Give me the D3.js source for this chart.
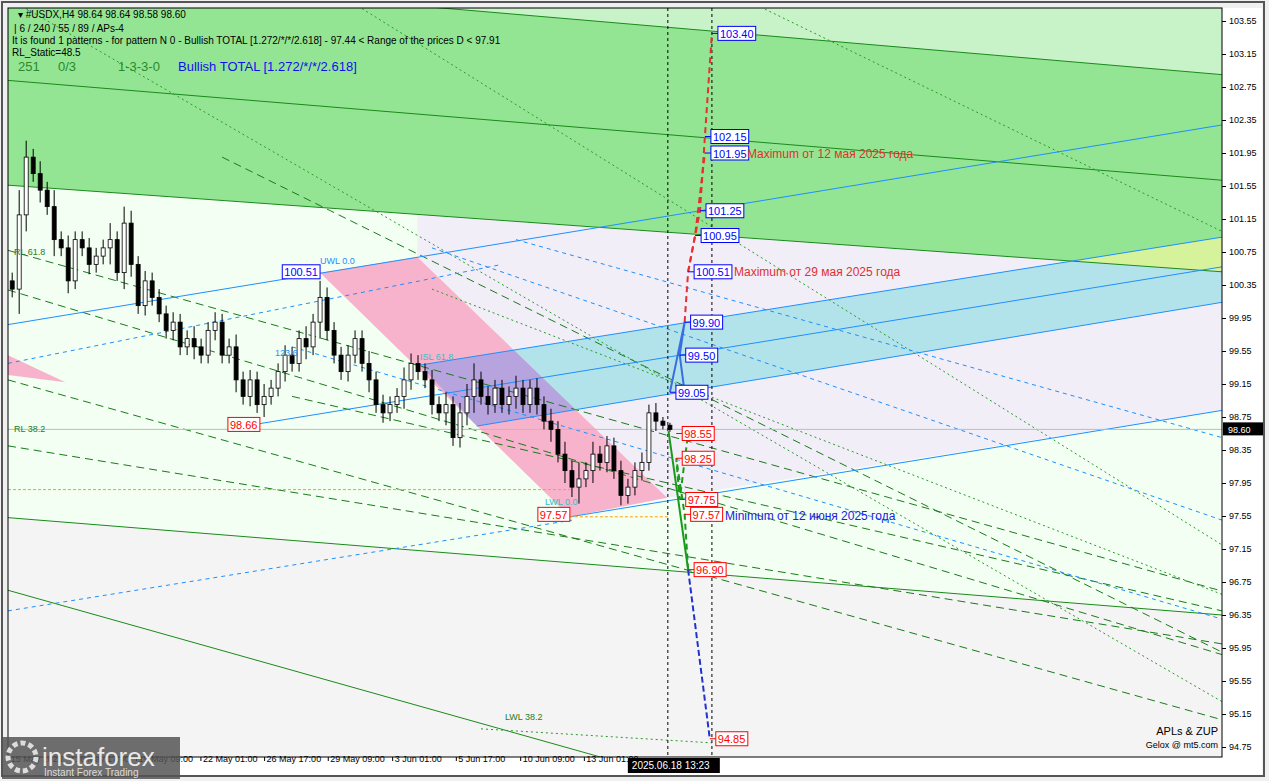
<!DOCTYPE html>
<html><head><meta charset="utf-8">
<script src="https://cdn.jsdelivr.net/npm/d3@7"></script>
<style>body{margin:0;background:#e8e8e8;overflow:hidden}text{font-family:"Liberation Sans",Arial,sans-serif}</style>
</head><body><svg id="c" width="1269" height="781"></svg>
<script>
// ---- data ----
const closes=[100.3,101.2,101.9,101.7,101.5,101.3,100.9,100.8,100.4,100.9,100.8,100.6,100.7,100.8,100.9,100.5,101.1,100.6,100.1,100.4,100.2,100.0,99.8,99.9,99.6,99.7,99.6,99.5,99.8,99.9,99.5,99.6,99.2,99.0,99.2,98.9,99.0,99.1,99.3,99.5,99.4,99.7,99.6,99.9,100.2,99.8,99.5,99.3,99.5,99.7,99.4,99.2,98.9,98.8,98.9,99.0,99.2,99.4,99.3,99.2,98.9,98.8,98.9,98.5,98.8,99.0,99.2,99.0,98.9,99.1,98.9,99.0,99.1,98.9,99.1,98.9,98.7,98.6,98.3,98.1,97.9,98.0,98.1,98.3,98.2,98.4,98.1,97.8,97.9,98.1,98.2,98.8,98.7,98.65,98.6];
const wicks=[0.1,0.3,0.2,0.1,0.15,0.1,0.2,0.1,0.15,0.1,0.1,0.12,0.1,0.1,0.2,0.1,0.2,0.15,0.1,0.12,0.1,0.1,0.1,0.12,0.1,0.1,0.15,0.1,0.1,0.12,0.1,0.1,0.15,0.1,0.12,0.1,0.15,0.1,0.1,0.12,0.1,0.1,0.15,0.1,0.2,0.12,0.1,0.1,0.12,0.1,0.1,0.15,0.1,0.12,0.1,0.1,0.15,0.12,0.1,0.1,0.12,0.1,0.15,0.1,0.12,0.15,0.2,0.1,0.12,0.1,0.1,0.12,0.15,0.1,0.1,0.12,0.1,0.15,0.1,0.15,0.12,0.2,0.1,0.15,0.1,0.12,0.1,0.12,0.1,0.1,0.12,0.1,0.12,0.05,0.03];
const priceTicks=[103.55,103.15,102.75,102.35,101.95,101.55,101.15,100.75,100.35,99.95,99.55,99.15,98.75,98.35,97.95,97.55,97.15,96.75,96.35,95.95,95.55,95.15,94.75];
const timeTicks=[[-0.57,"15 May 2025"],[8.6,"16 May 17:00"],[17.7,"19 May 09:00"],[26.9,"22 May 01:00"],[36,"26 May 17:00"],[45.1,"29 May 09:00"],[54.3,"3 Jun 01:00"],[63.4,"5 Jun 17:00"],[72.6,"10 Jun 09:00"],[81.7,"13 Jun 01:00"]];
const lastPrice=98.60;
const levels=[[100,103.40,"103.40","b"],[99,102.15,"102.15","b"],[99,101.95,"101.95","b"],[98.3,101.25,"101.25","b"],[97.6,100.95,"100.95","b"],[96.6,100.51,"100.51","b"],[96.1,99.90,"99.90","b"],[95.4,99.50,"99.50","b"],[94,99.05,"99.05","b"],[94.9,98.55,"98.55","r"],[94.9,98.25,"98.25","r"],[95.4,97.75,"97.75","r"],[96.1,97.57,"97.57","r"],[96.6,96.90,"96.90","r"],[99.7,94.85,"94.85","r"]];
const histLabels=[[44,100.51,"100.51","b"],[35.4,98.66,"98.66","r"],[79.7,97.57,"97.57","r"]];
const greenSolid=[[[-0.6,102.83],[172.9,101.62]],[[-0.6,101.56],[172.9,100.51]],[[-0.6,97.53],[172.9,96.35]],[[-0.6,96.65],[84,94.63]],[[56.9,103.74],[172.9,102.90]]];
const greenDashed=[[[-0.6,100.77],[172.9,96.64]],[[-0.6,100.29],[172.9,95.87]],[[-0.6,99.20],[172.9,95.08]],[[40,99.0],[172.9,96.4]],[[30,101.9],[172.9,95.9]],[[-0.6,98.4],[172.9,96.0]]];
const greenDotted=[[[2,103.7],[172.9,95.3]],[[50,103.7],[172.9,97.2]],[[60,100.3],[172.9,96.6]],[[67,94.97],[100,94.80]],[[105,103.8],[172.9,101.0]]];
const bandUpper=[[58.3,99.38],[172.9,100.93]];
const bandLower=[[66.4,98.64],[172.9,100.14]];
const blueLines=[[[-0.6,99.87],[172.9,102.29]],bandUpper,bandLower,[[35.4,98.67],[172.9,100.57]],[[79.7,97.54],[172.9,98.83]]];
const blueDashed=[[[40,99.6],[172.9,96.3]],[[60,100.8],[172.9,97.5]],[[72,100.9],[172.9,98.5]],[[-0.6,96.4],[80,97.5]],[[-0.6,99.4],[70,100.6]]];
const pink=[[44,100.50],[57.9,100.69],[93.6,97.77],[79.7,97.54]];
const redPath=[[96.6,100.51],[98.3,101.25],[99,102.15],[100,103.40]];
const redPath2=[[96.1,99.90],[96.6,100.51],[97.6,100.95],[99,101.95]];
const blueSolid=[[94,99.05],[96.1,99.90],[95.4,99.50],[96.1,99.05]];
const greenPathSolid=[[93.8,98.58],[96.6,96.90]];
const greenPathDash=[[96.6,96.90],[96.1,97.57],[94.9,98.25],[95.4,97.75],[96.6,98.55]];
const bluePathDash=[[96.6,96.90],[99.7,94.85]];

// ---- scales ----
const L=8,R=1222,T=8,B=757;
const x=d3.scaleLinear().domain([-0.6,172.9]).range([L,R]);
const y=d3.scaleLinear().domain([94.75,103.55]).range([747,21]);
const svg=d3.select("#c");
svg.append("rect").attr("width",1269).attr("height",781).attr("fill","#f0f0f0");
svg.append("rect").attr("x",2).attr("y",2).attr("width",1262).attr("height",774).attr("fill","none").attr("stroke","#555").attr("stroke-width",2);
const defs=svg.append("defs");
defs.append("clipPath").attr("id","cl").append("rect").attr("x",L).attr("y",T).attr("width",R-L).attr("height",B-T);
const g=svg.append("g").attr("clip-path","url(#cl)");
g.append("rect").attr("x",L).attr("y",T).attr("width",R-L).attr("height",B-T).attr("fill","#f2fff2");
const P=(a)=>a.map(d=>[x(d[0]),y(d[1])].join(",")).join(" ");
const ext=(l,b)=>{const[a,c]=l;const s=(c[1]-a[1])/(c[0]-a[0]);return a[1]+s*(b-a[0]);};
const gLow=greenSolid[1];
g.append("polygon").attr("points",P([[-0.6,97.53],[172.9,96.35],[172.9,93],[-0.6,93]])).attr("fill","#f4f4f4");
g.append("polygon").attr("points",P([[57.9,ext(gLow,57.9)],[172.9,ext(gLow,172.9)],[172.9,98.83],[93.6,97.77],[57.9,100.69]])).attr("fill","#f1eef8");
g.append("polygon").attr("points",P([[-0.6,104],[56.9,104],[172.9,102.9],[172.9,ext(gLow,172.9)],[-0.6,ext(gLow,-0.6)]])).attr("fill","#93e593");
g.append("polygon").attr("points",P([[56.9,103.74],[172.9,102.9],[172.9,104],[56.9,104]])).attr("fill","#c8f3c8");
const bandPoly=[bandUpper[0],[172.9,ext(bandUpper,172.9)],[172.9,ext(bandLower,172.9)],bandLower[0]];
g.append("polygon").attr("points",P(bandPoly)).attr("fill","#b3e3ea");
const su=(bandUpper[1][1]-bandUpper[0][1])/(bandUpper[1][0]-bandUpper[0][0]),sg=(gLow[1][1]-gLow[0][1])/(gLow[1][0]-gLow[0][0]);
const bx=(gLow[0][1]-sg*gLow[0][0]-(bandUpper[0][1]-su*bandUpper[0][0]))/(su-sg);
g.append("polygon").attr("points",P([[bx,ext(gLow,bx)],[172.9,ext(bandUpper,172.9)],[172.9,ext(gLow,172.9)]])).attr("fill","#d6f29a");
g.append("polygon").attr("points",P(pink)).attr("fill","#f7b3cc");
defs.append("clipPath").attr("id","bandclip").append("polygon").attr("points",P(bandPoly));
g.append("polygon").attr("points",P(pink)).attr("fill","#b7a4de").attr("clip-path","url(#bandclip)");
g.append("polygon").attr("points",P([[-0.6,99.5],[7.6,99.17],[-0.6,99.26]])).attr("fill","#f7b3cc");
const ln=(arr,col,dash,w)=>arr.forEach(l=>g.append("line").attr("x1",x(l[0][0])).attr("y1",y(l[0][1])).attr("x2",x(l[1][0])).attr("y2",y(l[1][1])).attr("stroke",col).attr("stroke-width",w||1).attr("stroke-dasharray",dash||null));
ln(greenSolid,"#1a8a1a");
ln(greenDashed,"#1a7a1a","8,5");
ln(greenDotted,"#2a9a2a","2,3");
ln(blueLines,"#1e8fff");
ln(blueDashed,"#1e8fff","4,4");
g.append("line").attr("x1",L).attr("x2",R).attr("y1",y(lastPrice)).attr("y2",y(lastPrice)).attr("stroke","#bbb");
g.append("line").attr("x1",L).attr("x2",x(79.7)).attr("y1",y(97.87)).attr("y2",y(97.87)).attr("stroke","#ffa000").attr("stroke-dasharray","3,2");
g.append("line").attr("x1",x(79.7)).attr("x2",x(93.7)).attr("y1",y(97.54)).attr("y2",y(97.54)).attr("stroke","#ffa000").attr("stroke-dasharray","3,2");
[93.7,100].forEach(b=>g.append("line").attr("x1",x(b)).attr("x2",x(b)).attr("y1",T).attr("y2",B).attr("stroke","#000").attr("stroke-dasharray","3,3"));
const bw=4;
closes.forEach((c,i)=>{const o=i?closes[i-1]:c+0.1;const hi=Math.max(o,c)+wicks[i],lo=Math.min(o,c)-wicks[i];
 g.append("line").attr("x1",x(i)).attr("x2",x(i)).attr("y1",y(hi)).attr("y2",y(lo)).attr("stroke","#000");
 g.append("rect").attr("x",x(i)-bw/2).attr("width",bw).attr("y",y(Math.max(o,c))).attr("height",Math.max(1,Math.abs(y(o)-y(c)))).attr("fill",c>=o?"#fff":"#000").attr("stroke","#000").attr("stroke-width",0.8);});
const lg=d3.line().x(d=>x(d[0])).y(d=>y(d[1]));
g.append("path").attr("d",lg(redPath)).attr("fill","none").attr("stroke","#e53030").attr("stroke-width",2).attr("stroke-dasharray","6,4");
g.append("path").attr("d",lg(redPath2)).attr("fill","none").attr("stroke","#e53030").attr("stroke-width",2).attr("stroke-dasharray","6,4");
g.append("path").attr("d",lg(blueSolid)).attr("fill","none").attr("stroke","#3a6ee0").attr("stroke-width",2);
g.append("path").attr("d",lg(greenPathSolid)).attr("fill","none").attr("stroke","#1a9a1a").attr("stroke-width",2);
g.append("path").attr("d",lg(greenPathDash)).attr("fill","none").attr("stroke","#1a9a1a").attr("stroke-width",2).attr("stroke-dasharray","6,4");
g.append("path").attr("d",lg(bluePathDash)).attr("fill","none").attr("stroke","#2233cc").attr("stroke-width",2).attr("stroke-dasharray","6,3");
const box=(b,p,t,c)=>{const col=c=="b"?"#0000ff":"#ff0000";const X=x(b)+6,Y=y(p),w=t.length*5.8+3;
 g.append("line").attr("x1",x(b)).attr("x2",X).attr("y1",Y).attr("y2",Y).attr("stroke",col);
 g.append("rect").attr("x",X).attr("y",Y-7).attr("width",w).attr("height",14).attr("fill","#fff").attr("stroke",col);
 g.append("text").attr("x",X+2).attr("y",Y+4.5).attr("font-size",11).attr("fill",col).text(t);};
levels.forEach(d=>box(...d));
histLabels.forEach(([b,p,t,c])=>{const col=c=="b"?"#0000ff":"#ff0000",w=t.length*5.8+3;
 g.append("rect").attr("x",x(b)-w).attr("y",y(p)-7).attr("width",w).attr("height",14).attr("fill","#fff").attr("stroke",col);
 g.append("text").attr("x",x(b)-w+2).attr("y",y(p)+4.5).attr("font-size",11).attr("fill",col).text(t);});
g.append("text").attr("x",747).attr("y",158).attr("font-size",12).attr("fill","#e03030").text("Maximum от 12 мая 2025 года");
g.append("text").attr("x",734).attr("y",276).attr("font-size",12).attr("fill","#e03030").text("Maximum от 29 мая 2025 годa");
g.append("text").attr("x",725).attr("y",520).attr("font-size",12).attr("fill","#2020e0").text("Minimum от 12 июня 2025 года");
[[320,264,"UWL 0.0","#1e8fff"],[505,720,"LWL 38.2","#2a7a2a"],[14,432,"RL 38.2","#2a7a2a"],[14,255,"RL 61.8","#2a7a2a"],[420,360,"ISL 61.8","#30c0c0"],[275,356,"123.6","#1e8fff"],[545,505,"LWL 0.0","#30c0c0"]].forEach(([a,b,t,c])=>g.append("text").attr("x",a).attr("y",b).attr("font-size",9).attr("fill",c).text(t));
const hd=[[18,18,"▾ #USDX,H4  98.64 98.64 98.58 98.60"],[14,32,"| 6 / 240 / 55 / 89 / APs-4"],[12,44,"It is found 1 patterns  -  for pattern N 0 - Bullish TOTAL [1.272/*/*/2.618] - 97.44 < Range of the prices D < 97.91"],[12,56,"RL_Static=48.5"]];
hd.forEach(([a,b,t])=>svg.append("text").attr("x",a).attr("y",b).attr("font-size",10).attr("fill","#000").text(t));
[[18,"251"],[58,"0/3"],[118,"1-3-3-0"]].forEach(([a,t])=>svg.append("text").attr("x",a).attr("y",71).attr("font-size",13).attr("fill","#2a8a2a").text(t));
svg.append("text").attr("x",178).attr("y",71).attr("font-size",13).attr("fill","#1010ee").text("Bullish TOTAL [1.272/*/*/2.618]");
svg.append("text").attr("x",1218).attr("y",735).attr("font-size",11).attr("text-anchor","end").attr("font-family","Liberation Serif").text("APLs & ZUP");
svg.append("text").attr("x",1218).attr("y",748).attr("font-size",9).attr("text-anchor","end").attr("font-family","Liberation Serif").text("Gelox @ mt5.com");
svg.append("rect").attr("x",R).attr("y",T).attr("width",1262-R).attr("height",B-T).attr("fill","#fff");
svg.append("rect").attr("x",L).attr("y",B).attr("width",1262-L).attr("height",18).attr("fill","#fff");
svg.append("rect").attr("x",L).attr("y",T).attr("width",R-L).attr("height",B-T).attr("fill","none").attr("stroke","#000");
const ya=d3.axisRight(y).tickValues(priceTicks).tickFormat(d3.format(".2f")).tickSize(4);
svg.append("g").attr("transform",`translate(${R},0)`).call(ya).call(a=>{a.select(".domain").remove();a.selectAll("text").attr("font-size",9).attr("font-family","Liberation Sans");});
svg.append("rect").attr("x",R+1).attr("y",y(lastPrice)-7).attr("width",40).attr("height",13).attr("fill","#000");
svg.append("text").attr("x",R+6).attr("y",y(lastPrice)+3.5).attr("font-size",9).attr("fill","#fff").text(lastPrice.toFixed(2));
const xa=d3.axisBottom(x).tickValues(timeTicks.map(d=>d[0])).tickFormat((d,i)=>timeTicks[i][1]).tickSize(4);
svg.append("g").attr("transform",`translate(0,${B})`).call(xa).call(a=>{a.select(".domain").remove();a.selectAll("text").attr("font-size",9).attr("text-anchor","start").attr("dx",2).attr("dy",-2).attr("font-family","Liberation Sans");});
svg.append("rect").attr("x",x(93.7)-40).attr("y",B+1).attr("width",92).attr("height",15).attr("fill","#000");
svg.append("text").attr("x",x(93.7)-36).attr("y",B+12).attr("font-size",10).attr("fill","#fff").text("2025.06.18 13:23");
svg.append("rect").attr("x",2).attr("y",737).attr("width",178).attr("height",42).attr("fill","#555").attr("opacity",0.85);
svg.append("circle").attr("cx",22).attr("cy",757).attr("r",14).attr("fill","none").attr("stroke","#ddd").attr("stroke-width",5).attr("stroke-dasharray","5,3");
svg.append("text").attr("x",42).attr("y",766).attr("font-size",26).attr("fill","#e8e8e8").text("instaforex");
svg.append("text").attr("x",44).attr("y",776).attr("font-size",10).attr("fill","#ddd").text("Instant Forex Trading");
</script></body></html>
